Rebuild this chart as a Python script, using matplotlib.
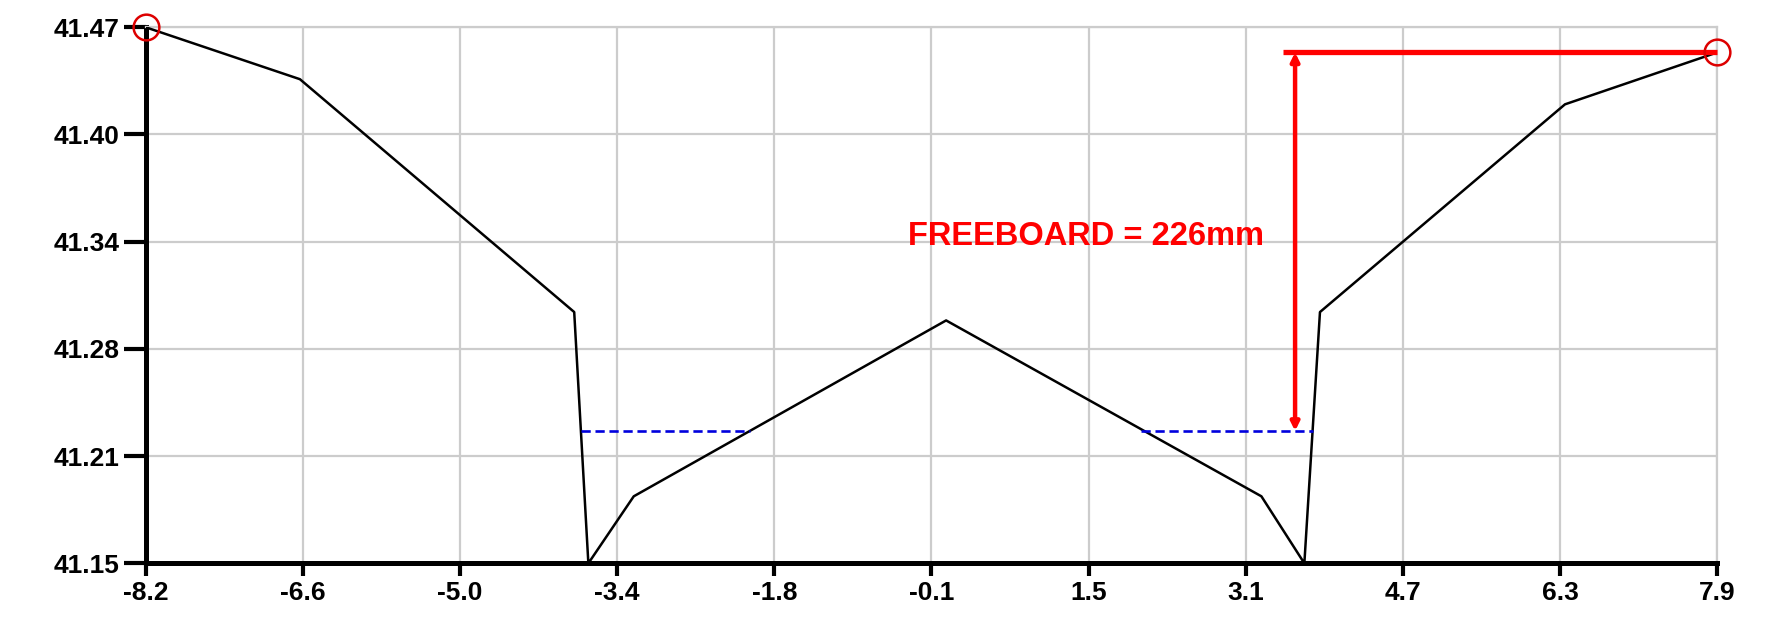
import numpy as np
import matplotlib
matplotlib.use('Agg')
import matplotlib.pyplot as plt

# Cross-section survey: offset from centreline (m) vs ground level (m)
station = [-8.2, -6.62, -3.81, -3.665, -3.2, 0.0, 3.23, 3.67, 3.83, 6.34, 7.9]
level = [41.47, 41.439, 41.300, 41.15, 41.190, 41.295, 41.190, 41.15, 41.300, 41.424, 41.455]

# Water level and its extent on each side of the crown
water_level = 41.229
water_left = [-3.74, -2.01]
water_right = [2.00, 3.76]

# Freeboard measured from the right bank top down to the water level
bank_top = 41.455
freeboard_x = 3.575
freeboard_line = [3.45, 7.9]
freeboard_text = 'FREEBOARD = 226mm'

# Points of interest circled on the banks
circle_x = [-8.2, 7.9]
circle_y = [41.47, 41.455]

x_ticks = np.linspace(-8.2, 7.9, 11)
x_labels = ['-8.2', '-6.6', '-5.0', '-3.4', '-1.8', '-0.1', '1.5', '3.1', '4.7', '6.3', '7.9']
y_ticks = np.linspace(41.15, 41.47, 6)
y_labels = ['41.15', '41.21', '41.28', '41.34', '41.40', '41.47']

plt.rcParams['font.family'] = ['Liberation Sans', 'DejaVu Sans']

fig = plt.figure(figsize=(17.68, 6.17), dpi=100)
ax = fig.add_axes([0.0824, 0.0870, 0.8889, 0.8688])

ax.plot(station, level, color='black', lw=1.8, zorder=3)

ax.plot(water_left, [water_level, water_level], color='#0000dd', lw=1.9,
        dashes=(3.5, 1.8), zorder=3)
ax.plot(water_right, [water_level, water_level], color='#0000dd', lw=1.9,
        dashes=(3.5, 1.8), zorder=3)

# freeboard dimension
ax.plot(freeboard_line, [bank_top, bank_top], color='#ff0000', lw=3.8,
        solid_capstyle='butt', zorder=4, clip_on=False)
ax.annotate('', xy=(freeboard_x, water_level), xytext=(freeboard_x, bank_top),
            arrowprops=dict(arrowstyle='<|-|>', color='#ff0000', lw=3.2,
                            mutation_scale=12, shrinkA=0, shrinkB=0),
            zorder=4)
ax.text(1.43, 41.345, freeboard_text, color='#ff0000', fontsize=23.5,
        fontweight='bold', ha='center', va='center', zorder=5)

ax.plot(circle_x, circle_y, 'o', ms=18.5, mfc='none', mec='#dd0000', mew=1.8,
        clip_on=False, zorder=5)

ax.set_xlim(-8.2, 7.9)
ax.set_ylim(41.15, 41.47)
ax.set_xticks(x_ticks)
ax.set_xticklabels(x_labels)
ax.set_yticks(y_ticks)
ax.set_yticklabels(y_labels)

ax.grid(True, color='#cccccc', lw=1.6)
ax.set_axisbelow(True)

for side in ['top', 'right']:
    ax.spines[side].set_color('#cccccc')
    ax.spines[side].set_linewidth(1.6)
for side in ['left', 'bottom']:
    ax.spines[side].set_color('black')
    ax.spines[side].set_linewidth(3.6)

ax.tick_params(axis='y', length=16, width=3, pad=3, labelsize=19)
ax.tick_params(axis='x', length=9, width=3, pad=3.5, labelsize=19)
for lbl in ax.get_xticklabels() + ax.get_yticklabels():
    lbl.set_fontweight('bold')

fig.savefig('out.png', dpi=100)
